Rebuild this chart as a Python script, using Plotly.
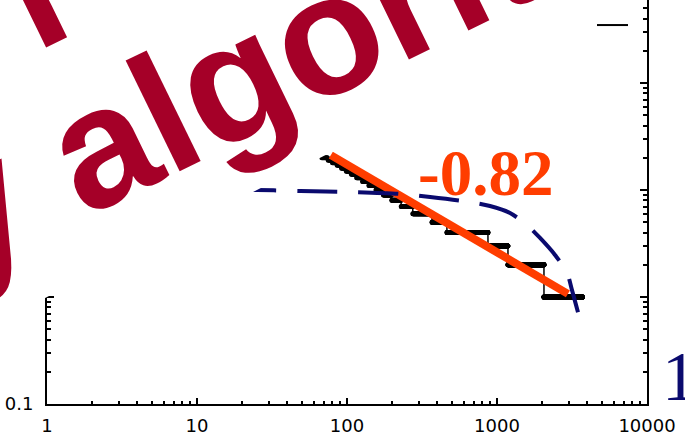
import math
import plotly.graph_objects as go

# ---- data -----------------------------------------------------------------
# rank/frequency staircase: count level and the first rank that has it
step_counts = [20, 19, 18, 17, 16, 15, 14, 13, 12, 11, 10, 9, 8, 7, 6, 5, 4, 3, 2, 1]
step_first_rank = [68, 75, 80, 86, 92, 99, 107, 116, 127, 140, 156, 175, 199, 230,
                   275, 369, 464, 871, 1184, 2057]
step_last_rank = 3700

# dashed model curve
model_x = [1.1, 5, 25, 49, 105, 226, 358, 661, 898, 1221, 1610, 1936, 2437, 2929, 3162, 3467]
model_y = [10.4, 10.3, 10.0, 9.79, 9.58, 9.18, 8.60, 7.72, 7.09, 6.10, 4.61, 3.56, 2.47, 1.68, 1.16, 0.72]

# power-law fit
fit_slope = -0.82
fit_x = [78, 2970]
fit_y_end = 1.07

# short legend stroke near the top
legend_x = [4640, 7470]
legend_y = [348, 348]

x_ticks = [1, 10, 100, 1000, 10000]
x_tick_text = ["1", "10", "100", "1000", "10000"]
y_ticks = [0.1, 1, 10, 100]
y_tick_text = ["0.1", "1", "10", "100"]

# ---- expand staircase to one point per rank -------------------------------
ranks, freqs = [], []
bounds = step_first_rank[1:] + [step_last_rank + 1]
for k, r0, r1 in zip(step_counts, step_first_rank, bounds):
    for r in range(r0, r1):
        ranks.append(r)
        freqs.append(k)

fit_y = [fit_y_end * (fit_x[0] / fit_x[1]) ** fit_slope, fit_y_end]

# ---- geometry helpers (pixel -> paper) -------------------------------------
W, H = 685, 439
ML, MR, MT, MB = 47, 38, 0, 35
PW, PH = W - ML - MR, H - MT - MB


def px(x):
    return (x - ML) / PW


def py(y):
    return (H - MB - y) / PH


decade_px = 107
y_top = -1 + PH / decade_px

fig = go.Figure()

fig.add_trace(go.Scatter(
    x=ranks, y=freqs, mode="lines+markers",
    line=dict(color="black", width=1.5),
    marker=dict(color="black", size=5, symbol="circle"),
    showlegend=False, hoverinfo="skip"))

fig.add_trace(go.Scatter(
    x=fit_x, y=fit_y, mode="lines",
    line=dict(color="#FF3D00", width=8),
    showlegend=False, hoverinfo="skip"))

fig.add_trace(go.Scatter(
    x=model_x, y=model_y, mode="lines",
    line=dict(color="#0A0A6E", width=4, dash="40px,21px", shape="spline", smoothing=0.8),
    showlegend=False, hoverinfo="skip"))

fig.add_trace(go.Scatter(
    x=legend_x, y=legend_y, mode="lines",
    line=dict(color="black", width=2),
    showlegend=False, hoverinfo="skip"))

# white tilted panel behind the title text
box_angle = math.radians(27)
s = math.tan(box_angle)
x0p, y0p = 47, 297
pts = [(-30, y0p + s * (x0p + 30)), (740, y0p - s * (740 - x0p)), (740, -80), (-30, -80)]
path = "M " + " L ".join(f"{px(a):.4f},{py(b):.4f}" for a, b in pts) + " Z"
fig.add_shape(type="path", path=path, xref="paper", yref="paper",
              fillcolor="white", line=dict(width=0), layer="above")

# tilted title lines (bold sans, em-unit metrics used to centre each line)
text_deg = 26
th = math.radians(text_deg)
fs = 170
d = (math.cos(th), -math.sin(th))      # along the baseline
u = (-math.sin(th), -math.cos(th))     # towards the top of the glyphs


def move(p, along, up):
    return (p[0] + along * d[0] + up * u[0], p[1] + along * d[1] + up * u[1])


# second line: reference point is the top of the "l" in "algorithm"
l_top = (136.5, 57.0)
line2 = "greedy algorithm"
c2 = move(l_top, -0.1955 * fs, -(0.716 - 0.3465) * fs)
# first line: reference point is the descender tip of the "p"
p_tip = (57.0, 42.5)
line1 = "The power"
c1 = move(p_tip, 0.304 * fs, (0.21 + 0.3465) * fs)

for txt, c in ((line2, c2), (line1, c1)):
    fig.add_annotation(text=f"<b>{txt}</b>", x=px(c[0]), y=py(c[1]), xref="paper", yref="paper",
                       xanchor="center", yanchor="middle", showarrow=False, textangle=-text_deg,
                       font=dict(family="Liberation Sans, Arial", size=fs, color="#A50028"))

fig.add_annotation(text="<b>-0.82</b>", x=px(485), y=py(173), xref="paper", yref="paper",
                   xanchor="center", yanchor="middle", showarrow=False,
                   font=dict(family="Liberation Serif, Times New Roman", size=65, color="#FF3D00"))

fig.add_annotation(text="1", x=px(660), y=py(376), xref="paper", yref="paper",
                   xanchor="left", yanchor="middle", showarrow=False,
                   font=dict(family="Liberation Serif, Times New Roman", size=70, color="#0A0A6E"))

minor_x = [m * 10 ** e for e in range(0, 4) for m in range(2, 10)]
minor_y = [m * 10 ** e for e in range(-1, 3) for m in range(2, 10)]

tick_font = dict(family="DejaVu Sans", size=18, color="black")

fig.update_xaxes(type="log", range=[0, 4], showline=True, linecolor="black", linewidth=2,
                 ticks="inside", ticklen=6, tickwidth=1.5, tickcolor="black",
                 tickmode="array", tickvals=x_ticks, ticktext=x_tick_text,
                 minor=dict(tickmode="array", tickvals=minor_x, ticks="inside", ticklen=3,
                            tickwidth=1.5, tickcolor="black", showgrid=False),
                 showgrid=False, zeroline=False, mirror=False, tickfont=tick_font,
                 ticklabelstandoff=4)

fig.update_yaxes(type="log", range=[-1, y_top], showline=True, linecolor="black", linewidth=2,
                 ticks="inside", ticklen=7, tickwidth=1.5, tickcolor="black",
                 tickmode="array", tickvals=y_ticks, ticktext=y_tick_text,
                 minor=dict(tickmode="array", tickvals=minor_y, ticks="inside", ticklen=4,
                            tickwidth=1.5, tickcolor="black", showgrid=False),
                 showgrid=False, zeroline=False, mirror="allticks", tickfont=tick_font,
                 ticklabelstandoff=8)

fig.update_layout(width=W, height=H, margin=dict(l=ML, r=MR, t=MT, b=MB),
                  paper_bgcolor="white", plot_bgcolor="white", showlegend=False)

fig.write_html("out.html")
